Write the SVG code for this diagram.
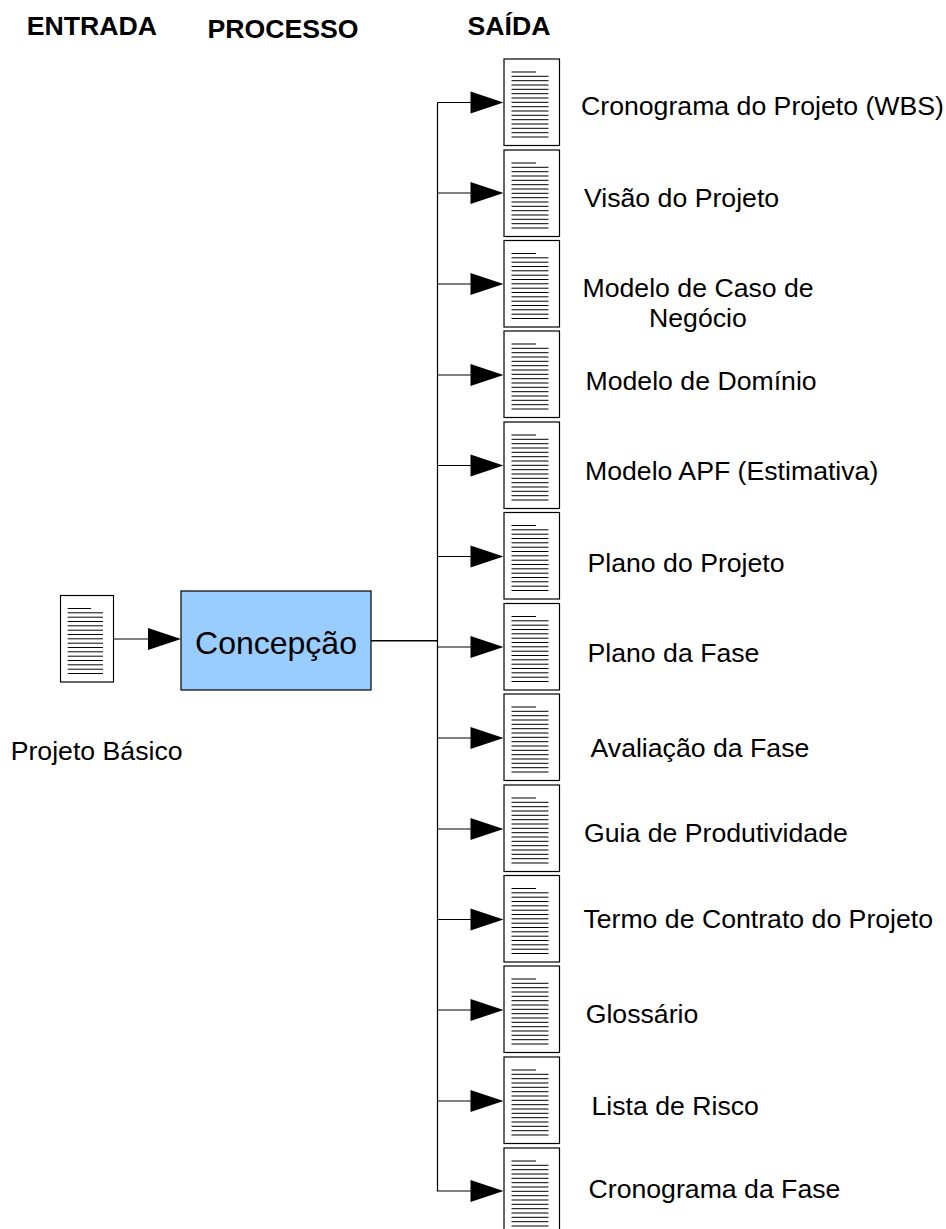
<svg xmlns="http://www.w3.org/2000/svg" xmlns:xlink="http://www.w3.org/1999/xlink" width="946" height="1229" viewBox="0 0 946 1229">
<style>
text{font-family:"Liberation Sans",Arial,sans-serif;fill:#000}
.l{font-size:26.67px}
.h{font-size:26.67px;font-weight:bold}
.c{fill:none;stroke:#000;stroke-width:1.2}
.m{fill:none;stroke:#000;stroke-width:1.6}
.a{fill:#000;stroke:none}
.p{fill:#fff;stroke:#000;stroke-width:1.2}
.t{stroke:#000;stroke-width:1}
</style>
<defs>
<g id="doc">
<rect class="p" x="0" y="0" width="55.5" height="86.5"/>
<path class="t" d="M7.500 13H32M7.500 17.300H44.500M7.500 21.700H44.500M7.500 26H44.500M7.500 30.300H44.500M7.500 34.700H44.500M7.500 39H44.500M7.500 43.300H44.500M7.500 47.700H44.500M7.500 52H44.500M7.500 56.300H44.500M7.500 60.700H44.500M7.500 65H44.500M7.500 69.300H44.500M7.500 73.700H44.500M7.500 78H44.500"/>
</g>
<polygon id="head" class="a" points="0,0 -33,-11 -33,11"/>
</defs>
<g id="connectors">
<path class="c" d="M113.500 639H150M437.500 102.500V1191H475"/>
<path class="m" d="M371 640.700H437.500"/>
<path class="c" d="M437.500 102.500H475M437.500 193H475M437.500 284H475M437.500 375H475M437.500 465.500H475M437.500 556.500H475M437.500 647H475M437.500 738H475M437.500 829H475M437.500 919.500H475M437.500 1010H475M437.500 1101H475"/>
<use href="#head" x="181" y="639"/>
<use href="#head" x="503.500" y="102.500"/>
<use href="#head" x="503.500" y="193"/>
<use href="#head" x="503.500" y="284"/>
<use href="#head" x="503.500" y="375"/>
<use href="#head" x="503.500" y="465.500"/>
<use href="#head" x="503.500" y="556.500"/>
<use href="#head" x="503.500" y="647"/>
<use href="#head" x="503.500" y="738"/>
<use href="#head" x="503.500" y="829"/>
<use href="#head" x="503.500" y="919.500"/>
<use href="#head" x="503.500" y="1010"/>
<use href="#head" x="503.500" y="1101"/>
<use href="#head" x="503.500" y="1191"/>
</g>
<g id="h1"><text class="h" x="26.700" y="35">ENTRADA</text></g>
<g id="h2"><text class="h" x="207.500" y="37.500">PROCESSO</text></g>
<g id="h3"><text class="h" x="467.500" y="35">SAÍDA</text></g>
<g id="proc"><rect x="181" y="591" width="190" height="99" fill="#99ccff" stroke="#000" stroke-width="1.2"/><text x="276" y="653.500" text-anchor="middle" font-size="32">Concepção</text></g>
<g id="input"><use href="#doc" transform="translate(60.500 595.500) scale(.955 1)"/><text class="l" x="10.700" y="760">Projeto Básico</text></g>
<g id="d1"><use href="#doc" x="504" y="59"/><text class="l" x="581" y="114.500">Cronograma do Projeto (WBS)</text></g>
<g id="d2"><use href="#doc" x="504" y="150"/><text class="l" x="584" y="206.500">Visão do Projeto</text></g>
<g id="d3"><use href="#doc" x="504" y="240.500"/><text class="l" x="582.500" y="297">Modelo de Caso de</text><text class="l" x="649" y="327">Negócio</text></g>
<g id="d4"><use href="#doc" x="504" y="331"/><text class="l" x="585.500" y="390">Modelo de Domínio</text></g>
<g id="d5"><use href="#doc" x="504" y="422"/><text class="l" x="585" y="480">Modelo APF (Estimativa)</text></g>
<g id="d6"><use href="#doc" x="504" y="512.500"/><text class="l" x="587.500" y="572">Plano do Projeto</text></g>
<g id="d7"><use href="#doc" x="504" y="603.500"/><text class="l" x="587.500" y="662">Plano da Fase</text></g>
<g id="d8"><use href="#doc" x="504" y="694"/><text class="l" x="590.500" y="757">Avaliação da Fase</text></g>
<g id="d9"><use href="#doc" x="504" y="785"/><text class="l" x="584" y="842">Guia de Produtividade</text></g>
<g id="d10"><use href="#doc" x="504" y="875.500"/><text class="l" x="583.400" y="928">Termo de Contrato do Projeto</text></g>
<g id="d11"><use href="#doc" x="504" y="966"/><text class="l" x="585.700" y="1022.500">Glossário</text></g>
<g id="d12"><use href="#doc" x="504" y="1057"/><text class="l" x="591.500" y="1114.500">Lista de Risco</text></g>
<g id="d13"><use href="#doc" x="504" y="1148"/><text class="l" x="588.500" y="1198">Cronograma da Fase</text></g>
</svg>
